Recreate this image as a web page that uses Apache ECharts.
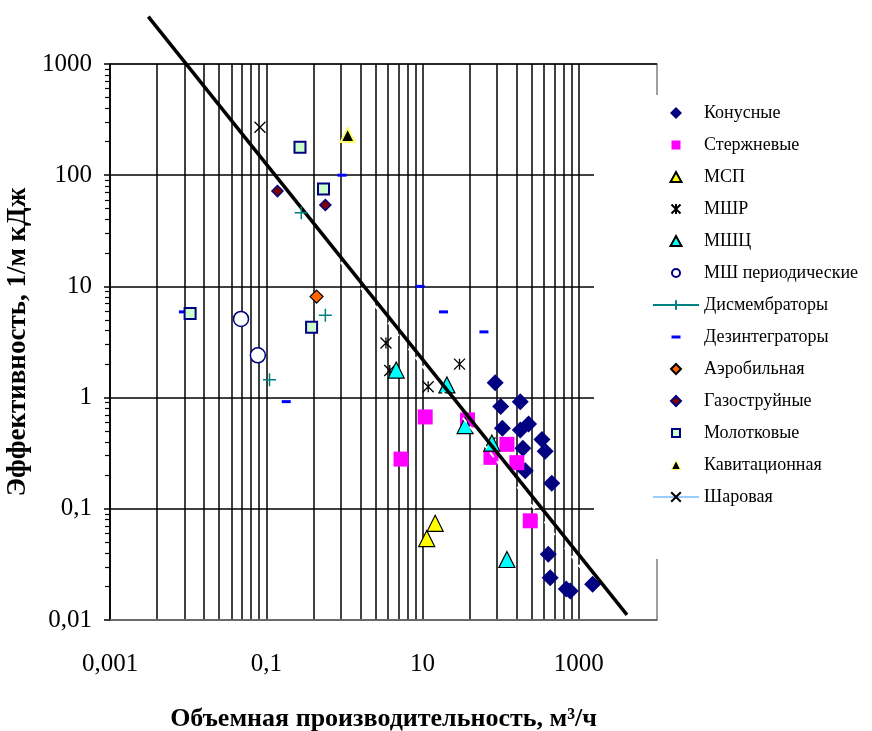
<!DOCTYPE html>
<html lang="ru">
<head>
<meta charset="UTF-8">
<title>Эффективность измельчителей</title>
<script src="https://cdn.jsdelivr.net/npm/echarts@6/dist/echarts.min.js"></script>
<style>html,body{margin:0;padding:0;background:#fff}</style>
</head>
<body>
<div id="chart" style="width:872px;height:731px"></div>
<script>
// [производительность м3/ч, эффективность 1/м кДж]
var konus = [[85, 1.36], [100, 0.83], [178, 0.92], [105, 0.53], [178, 0.51], [227, 0.58], [337, 0.42],
  [371, 0.33], [192, 0.35], [206, 0.22], [450, 0.17], [406, 0.039], [430, 0.024], [690, 0.019],
  [776, 0.0182], [1500, 0.021]];
var sterzh = [[10.8, 0.67], [5.3, 0.28], [37.6, 0.63], [120, 0.38], [75, 0.29], [161, 0.26], [239, 0.078]];
var msp = [[14.5, 0.074], [11.3, 0.054]];
var mshr = [[3.4, 3.1], [3.8, 1.75], [29.7, 2.0], [11.8, 1.25], [73, 0.39]];
var mshc = [[4.6, 1.77], [20.5, 1.3], [35, 0.56], [77, 0.39], [120, 0.035]];
var mshPer = [[0.0475, 5.1], [0.078, 2.4]];
var dismemb = [[0.28, 46], [0.57, 5.5], [0.11, 1.45]];
var dezint = [[0.93, 100], [9.3, 10], [18.5, 5.9], [61, 3.9], [0.18, 0.92], [0.0087, 5.9]];
var aerob = [[0.44, 8.1]];
var gaz = [[0.139, 72], [0.57, 54]];
var molot = [[0.27, 178], [0.54, 75], [0.0106, 5.7], [0.38, 4.3]];
var kavit = [[1.1, 230]];
var shar = [[0.083, 270]];
// линии тренда
var trend = [[0.00309, 2663], [4130, 0.0111]];
var trend2 = [[0.6, 23.7], [1100, 0.0284]];

var xTickValues = [0.001, 0.1, 10, 1000];
var xTickLabels = ['0,001', '0,1', '10', '1000'];
var yTickValues = [0.01, 0.1, 1, 10, 100, 1000];
var yTickLabels = ['0,01', '0,1', '1', '10', '100', '1000'];

var FONT = "'Liberation Serif', 'Times New Roman', serif";

// сетка по X как в Excel (основание 100): m * k^2
var xGrid = [0.001];
[0.001, 0.1, 10].forEach(function (m) {
  for (var k = 2; k <= 10; k++) xGrid.push(m * k * k);
});
// промежуточные деления по Y
var yMinor = [];
for (var e = -2; e <= 2; e++) {
  for (var k = 2; k <= 9; k++) yMinor.push(k * Math.pow(10, e));
}

function pickLabel(v, vals, labels) {
  var lv = Math.log10(v);
  for (var i = 0; i < vals.length; i++) {
    if (Math.abs(lv - Math.log10(vals[i])) < 0.01) return labels[i];
  }
  return '';
}

var ASTER = 'path://M0,0L10,10M10,0L0,10M5,0L5,10';
var CROSS = 'path://M0,0L10,10M10,0L0,10';
var PLUS = 'path://M0,5L10,5M5,0L5,10';

// значки легенды (рамка 0..12 задаёт размер)
var box = 'M0,0M12,12';
var IC = {
  diamond: 'path://' + box + 'M6,-1L13,6L6,13L-1,6Z',
  rect: 'path://' + box + 'M1.5,1.5H10.5V10.5H1.5Z',
  tri: 'path://' + box + 'M6,1L11.5,11H0.5Z',
  circle: 'path://' + box + 'M2,6A4,4,0,1,1,10,6A4,4,0,1,1,2,6Z',
  dash: 'path://' + box + 'M1.5,4.5H10.5V7.5H1.5Z',
  aster: 'path://' + box + 'M1.5,1.5L10.5,10.5M10.5,1.5L1.5,10.5M6,1L6,11',
  sdiam: 'path://' + box + 'M6,1L11,6L6,11L1,6Z',
  sq: 'path://' + box + 'M2,2H10V10H2Z',
  stri: 'path://' + box + 'M6,1.5L10.5,10.5H1.5Z'
};

function sc(name, data, symbol, size, style) {
  style.opacity = 1;
  return { name: name, type: 'scatter', data: data, symbol: symbol, symbolSize: size, itemStyle: style };
}

var chart = echarts.init(document.getElementById('chart'));
var option = {
  backgroundColor: '#fff',
  animation: false,
  grid: {
    left: 110, right: 215, top: 64, bottom: 111, show: true,
    borderColor: '#808080', borderWidth: 1.5, outerBoundsMode: 'none', containLabel: false
  },
  legend: {
    orient: 'vertical', left: 594, top: 95,
    backgroundColor: '#fff',
    padding: [8, 4, 52, 58],
    itemWidth: 46, itemHeight: 12, itemGap: 12,
    symbolKeepAspect: true,
    textStyle: { fontFamily: FONT, fontSize: 18, lineHeight: 20, color: '#000' },
    data: [
      { name: 'Конусные', icon: IC.diamond },
      { name: 'Стержневые', icon: IC.rect },
      { name: 'МСП', icon: IC.tri },
      { name: 'МШР', icon: IC.aster },
      { name: 'МШЦ', icon: IC.tri },
      { name: 'МШ периодические', icon: IC.circle },
      { name: 'Дисмембраторы', lineStyle: { opacity: 1, width: 2, color: '#008080' } },
      { name: 'Дезинтеграторы', icon: IC.dash },
      { name: 'Аэробильная', icon: IC.sdiam },
      { name: 'Газоструйные', icon: IC.sdiam },
      { name: 'Молотковые', icon: IC.sq },
      { name: 'Кавитационная', icon: IC.stri, itemStyle: { borderWidth: 1 } },
      { name: 'Шаровая', lineStyle: { opacity: 1, width: 2, color: '#99ccff' } }
    ]
  },
  xAxis: {
    type: 'log', logBase: 10, min: 0.001, max: 10000,
    name: 'Объемная производительность, м³/ч',
    nameLocation: 'middle', nameGap: 86,
    nameTextStyle: { fontFamily: FONT, fontSize: 26, fontWeight: 'bold', color: '#000' },
    axisLine: { lineStyle: { color: '#808080', width: 1.5 } },
    axisTick: { show: false, customValues: xGrid },
    axisLabel: {
      margin: 32, fontFamily: FONT, fontSize: 25, color: '#000',
      formatter: function (v) { return pickLabel(v, xTickValues, xTickLabels); }
    },
    splitLine: { show: true, lineStyle: { color: '#000', width: 1.5 } }
  },
  yAxis: [{
    type: 'log', logBase: 10, min: 0.01, max: 1000,
    name: 'Эффективность, 1/м кДж',
    nameLocation: 'middle', nameGap: 75,
    nameTextStyle: { fontFamily: FONT, fontSize: 27, fontWeight: 'bold', color: '#000' },
    axisLine: { lineStyle: { color: '#000', width: 1.5 } },
    axisTick: { show: true, length: 6, lineStyle: { color: '#000', width: 1.5 } },
    axisLabel: {
      margin: 18, fontFamily: FONT, fontSize: 25, color: '#000',
      formatter: function (v) { return pickLabel(v, yTickValues, yTickLabels); }
    },
    splitLine: { show: true, lineStyle: { color: '#000', width: 1.5 } }
  }, {
    type: 'log', logBase: 10, min: 0.01, max: 1000, position: 'left',
    axisLine: { show: false },
    axisTick: { show: true, length: 5, customValues: yMinor, lineStyle: { color: '#000', width: 1.2 } },
    axisLabel: { show: false },
    splitLine: { show: false }
  }],
  series: [
    sc('Конусные', konus, 'diamond', 17, { color: '#000080' }),
    sc('Стержневые', sterzh, 'rect', 15, { color: '#ff00ff' }),
    sc('МСП', msp, 'triangle', 16, { color: '#ffff00', borderColor: '#000', borderWidth: 1.2 }),
    sc('МШР', mshr, ASTER, 11, { color: 'rgba(0,0,0,0)', borderColor: '#000', borderWidth: 1.3 }),
    sc('МШЦ', mshc, 'triangle', 16, { color: '#00ffff', borderColor: '#000', borderWidth: 1.2 }),
    sc('МШ периодические', mshPer, 'circle', 15, { color: '#fff', borderColor: '#000080', borderWidth: 1.5 }),
    {
      name: 'Дисмембраторы', type: 'line', data: dismemb, symbol: PLUS, symbolSize: 13, showSymbol: true,
      lineStyle: { opacity: 0, width: 2, color: '#008080' },
      itemStyle: { color: 'rgba(0,0,0,0)', borderColor: '#008080', borderWidth: 1.5 }
    },
    sc('Дезинтеграторы', dezint, 'rect', [9, 3], { color: '#0000ff' }),
    sc('Аэробильная', aerob, 'diamond', 13, { color: '#ff6600', borderColor: '#000', borderWidth: 1.2 }),
    sc('Газоструйные', gaz, 'diamond', 11, { color: '#800000', borderColor: '#000080', borderWidth: 1.5 }),
    sc('Молотковые', molot, 'rect', 11, { color: '#ccffcc', borderColor: '#000080', borderWidth: 2 }),
    sc('Кавитационная', kavit, 'triangle', 14, { color: '#000', borderColor: '#ffff66', borderWidth: 2 }),
    {
      name: 'Шаровая', type: 'line', data: shar, symbol: CROSS, symbolSize: 11, showSymbol: true,
      lineStyle: { opacity: 0, width: 2, color: '#99ccff' },
      itemStyle: { color: 'rgba(0,0,0,0)', borderColor: '#000', borderWidth: 1.3 }
    },
    {
      name: 'trend2', type: 'line', data: trend2, symbol: 'none', silent: true,
      lineStyle: { color: '#fff', width: 2, type: [6, 5] }
    },
    {
      name: 'trend', type: 'line', data: trend, symbol: 'none', silent: true, clip: false,
      lineStyle: { color: '#000', width: 3.5 }
    }
  ]
};
chart.setOption(option);
</script>
</body>
</html>
